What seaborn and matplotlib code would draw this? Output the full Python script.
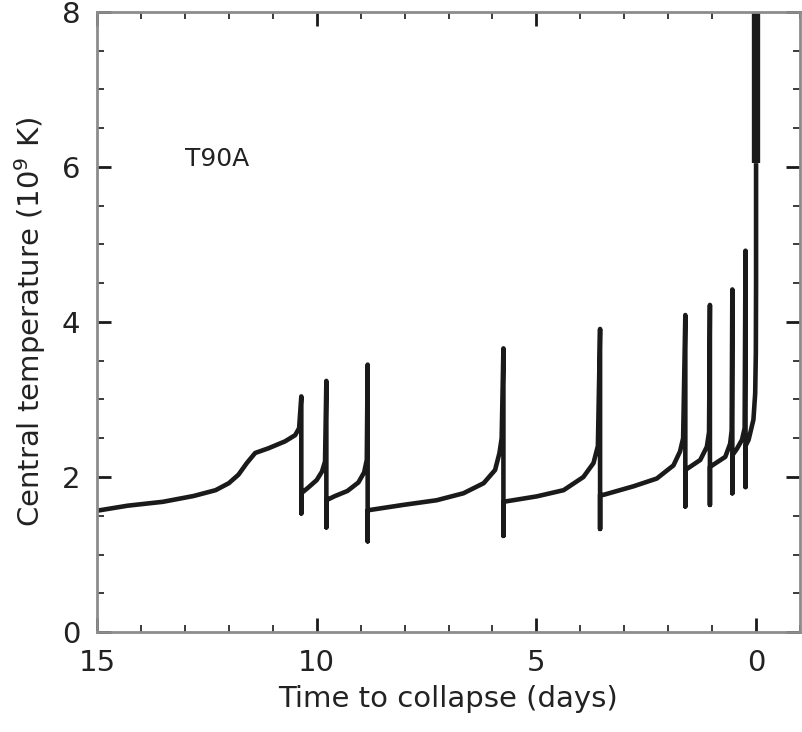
import numpy as np
import pandas as pd
import seaborn as sns
import matplotlib.pyplot as plt
from matplotlib.ticker import MultipleLocator

# time to collapse (days) and central temperature (1e9 K)
# spikes appear as repeated times: top, bottom, value just after
days = [15.0, 14.3, 13.5, 12.8, 12.3, 12.0, 11.78, 11.59, 11.4, 11.1, 10.72, 10.49, 10.4,
        10.35, 10.35, 10.35,
        10.2, 10.0, 9.88, 9.81,
        9.78, 9.78, 9.78,
        9.6, 9.3, 9.05, 8.92, 8.86,
        8.84, 8.84, 8.84,
        8.03, 7.27, 6.66, 6.2, 5.94, 5.84, 5.79,
        5.75, 5.75, 5.75,
        4.99, 4.38, 3.93, 3.7, 3.6,
        3.55, 3.55, 3.55,
        3.47, 2.79, 2.26, 1.88, 1.73, 1.66,
        1.61, 1.61, 1.61,
        1.27, 1.12, 1.07,
        1.05, 1.05, 1.05,
        0.70, 0.59, 0.555,
        0.54, 0.54, 0.54,
        0.44, 0.32, 0.26,
        0.24, 0.24, 0.24,
        0.17, 0.06, 0.02, 0.005, 0.0, 0.0]
temp = [1.565, 1.63, 1.68, 1.755, 1.83, 1.92, 2.03, 2.18, 2.31, 2.37, 2.46, 2.54, 2.63,
        3.04, 1.53, 1.79,
        1.86, 1.96, 2.07, 2.2,
        3.24, 1.35, 1.70,
        1.75, 1.82, 1.93, 2.06, 2.22,
        3.45, 1.17, 1.57,
        1.64, 1.70, 1.79, 1.92, 2.09, 2.31, 2.5,
        3.66, 1.24, 1.68,
        1.75, 1.83, 2.0, 2.18, 2.4,
        3.91, 1.33, 1.77,
        1.77, 1.88, 1.98, 2.15, 2.33, 2.5,
        4.09, 1.62, 2.09,
        2.22, 2.39, 2.58,
        4.22, 1.64, 2.13,
        2.26, 2.43, 2.6,
        4.42, 1.79, 2.28,
        2.36, 2.48, 2.63,
        4.92, 1.87, 2.4,
        2.48, 2.74, 3.08, 3.6, 4.5, 6.05]

# final collapse, drawn heavier
final_days = [0.0, 0.0]
final_temp = [6.05, 8.0]

df = pd.DataFrame({'days': days, 'temp': temp})
df_final = pd.DataFrame({'days': final_days, 'temp': final_temp})

sns.set_style('ticks')
plt.rcParams['font.family'] = ['DejaVu Sans']

fig = plt.figure(figsize=(8.02, 7.32), dpi=100)
ax = fig.add_axes([97/802, 100/732, 703/802, 620/732])

sns.lineplot(data=df, x='days', y='temp', sort=False, estimator=None,
             color='#1a1a1a', linewidth=3.3, ax=ax,
             solid_joinstyle='round', solid_capstyle='butt')
sns.lineplot(data=df_final, x='days', y='temp', sort=False, estimator=None,
             color='#1a1a1a', linewidth=6.0, ax=ax, solid_capstyle='butt')

ax.set_xlim(15, -1)
ax.set_ylim(0, 8)
ax.xaxis.set_major_locator(MultipleLocator(5))
ax.xaxis.set_minor_locator(MultipleLocator(1))
ax.yaxis.set_major_locator(MultipleLocator(2))
ax.yaxis.set_minor_locator(MultipleLocator(0.5))
ax.tick_params(which='both', direction='in', top=True, right=True,
               color='#1a1a1a', labelsize=21, labelcolor='#222222')
ax.tick_params(which='major', length=10, width=2, pad=12)
ax.tick_params(which='minor', length=5, width=1.2)
for s in ax.spines.values():
    s.set_color('#8c8c8c')
    s.set_linewidth(2)

ax.set_xlabel('Time to collapse (days)', fontsize=21, color='#222222', labelpad=6)
ax.set_ylabel('Central temperature (10$^9$ K)', fontsize=21, color='#222222', labelpad=10)
ax.text(13.0, 6.1, 'T90A', fontsize=18, color='#222222', ha='left', va='center')

fig.savefig('out.png', dpi=100)
